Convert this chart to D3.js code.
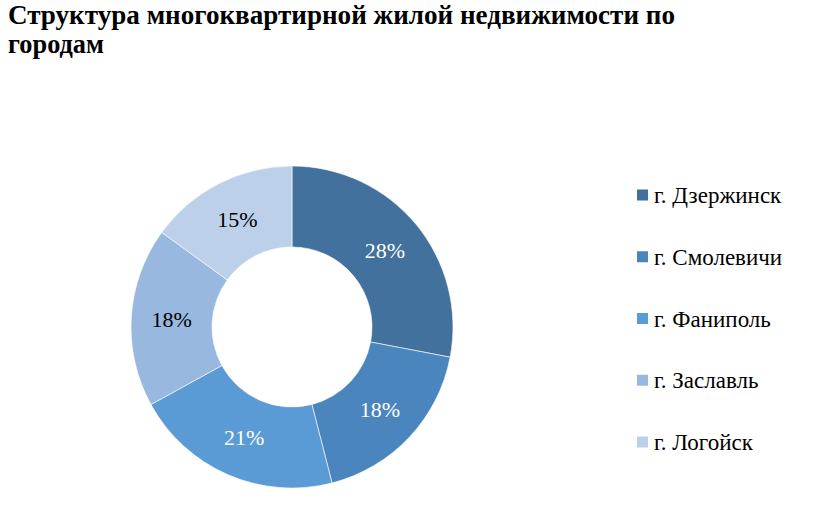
<!DOCTYPE html>
<html>
<head>
<meta charset="utf-8">
<script src="https://cdn.jsdelivr.net/npm/d3@7"></script>
<style>
  body { margin: 0; background: #fff; }
  svg { display: block; }
</style>
</head>
<body>
<div id="chart"></div>
<script>
const cities = ["г. Дзержинск", "г. Смолевичи", "г. Фаниполь", "г. Заславль", "г. Логойск"];
const shares = [28, 18, 21, 18, 15];
const colors = ["#41719c", "#4a86bd", "#5b9bd5", "#98b8e0", "#bdd0ea"];
const labelColors = ["#fff", "#fff", "#fff", "#000", "#000"];
const titleLines = ["Структура  многоквартирной жилой недвижимости по", "городам"];

const width = 821, height = 511;
const cx = 292, cy = 327, outerR = 161, innerR = 80;
const font = "Liberation Serif";

const svg = d3.select("#chart").append("svg")
    .attr("width", width)
    .attr("height", height);

// title, two lines, squeezed like the original
const titleWidths = [667, 96];
svg.append("g")
    .selectAll("text")
    .data(titleLines)
    .join("text")
    .attr("x", 8)
    .attr("y", (d, i) => 24 + i * 29)
    .attr("font-family", font)
    .attr("font-size", 28)
    .attr("font-weight", "bold")
    .attr("fill", "#000")
    .attr("textLength", (d, i) => titleWidths[i])
    .attr("lengthAdjust", "spacingAndGlyphs")
    .text(d => d);

const pie = d3.pie().sort(null).value(d => d);
const arc = d3.arc().innerRadius(innerR).outerRadius(outerR);
const arcs = pie(shares);

const g = svg.append("g").attr("transform", `translate(${cx},${cy})`);

g.selectAll("path")
    .data(arcs)
    .join("path")
    .attr("d", arc)
    .attr("fill", (d, i) => colors[i])
    .attr("stroke", "#fff")
    .attr("stroke-width", 0.6);

g.selectAll("text")
    .data(arcs)
    .join("text")
    .attr("transform", d => `translate(${arc.centroid(d)})`)
    .attr("text-anchor", "middle")
    .attr("dy", "0.35em")
    .attr("font-family", font)
    .attr("font-size", 22)
    .attr("fill", (d, i) => labelColors[i])
    .text(d => d.data + "%");

// legend
const legendY = d3.scalePoint().domain(cities).range([195, 442]);

const legend = svg.append("g")
    .selectAll("g")
    .data(cities)
    .join("g")
    .attr("transform", d => `translate(637,${legendY(d)})`);

legend.append("rect")
    .attr("x", 0).attr("y", -5.5)
    .attr("width", 11).attr("height", 11)
    .attr("fill", (d, i) => colors[i]);

legend.append("text")
    .attr("x", 17)
    .attr("dy", "0.35em")
    .attr("font-family", font)
    .attr("font-size", 23)
    .attr("fill", "#000")
    .text(d => d);
</script>
</body>
</html>
